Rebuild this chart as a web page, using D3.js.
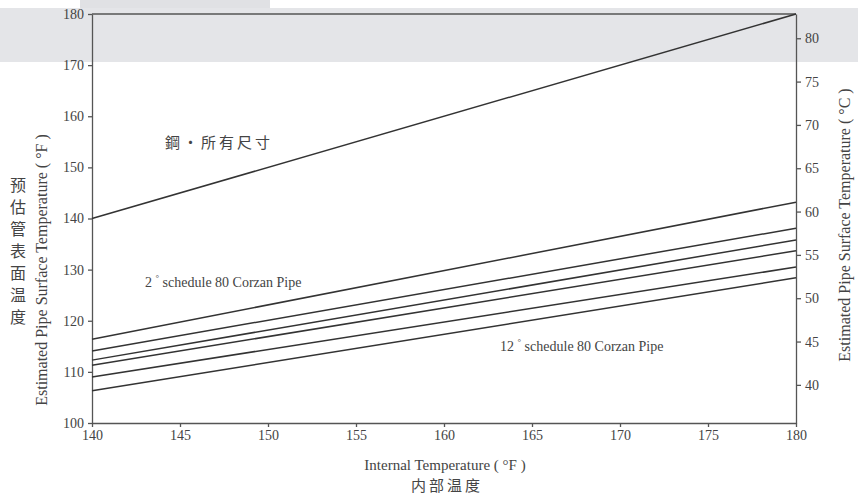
<!DOCTYPE html>
<html>
<head>
<meta charset="utf-8">
<script src="https://cdn.jsdelivr.net/npm/d3@7"></script>
<style>
  body { margin: 0; background: #fff; }
  svg { display: block; }
  .tick text { font-family: "Liberation Serif", "DejaVu Serif", serif; font-size: 14px; fill: #444; }
  .axis path, .axis line { stroke: #555; stroke-width: 1.3; }
</style>
</head>
<body>
<script>
// internal temperature (°F) at the two ends of each line
var internalTemps = [140, 180];

// copper line and the six Corzan pipe lines (°F surface temp at 140 and 180)
var copperLine = [140, 180];
var corzanLines = [
    [116.4, 143.2],
    [114.1, 138.1],
    [112.3, 135.8],
    [111.3, 133.7],
    [109.0, 130.5],
    [106.3, 128.4]
];

var xTicks = [140, 145, 150, 155, 160, 165, 170, 175, 180];
var yTicksF = [100, 110, 120, 130, 140, 150, 160, 170, 180];
var yTicksC = [40, 45, 50, 55, 60, 65, 70, 75, 80];

var width = 858, height = 494;
var margin = { top: 14, right: 62, bottom: 71, left: 92 };

var svg = d3.select('body').append('svg')
    .attr('width', width)
    .attr('height', height);

// grey scan band behind the top of the chart
svg.append('rect').attr('x', 0).attr('y', 8).attr('width', width).attr('height', 54).attr('fill', '#e4e5e8');
svg.append('rect').attr('x', 80).attr('y', 0).attr('width', 190).attr('height', 8).attr('fill', '#e0e1e4');

var x = d3.scaleLinear().domain([140, 180]).range([margin.left, width - margin.right]);
var y = d3.scaleLinear().domain([100, 180]).range([height - margin.bottom, margin.top]);
// the celsius axis on the scan does not line up exactly with the fahrenheit one
var yC = d3.scaleLinear().domain([35.6, 82.8]).range([height - margin.bottom, margin.top]);

var serif = '"Liberation Serif", "DejaVu Serif", serif';
var cjk = '"Noto Sans CJK TC", "Noto Sans CJK SC", sans-serif';

// axes
svg.append('g')
    .attr('class', 'axis')
    .attr('transform', translation(0, height - margin.bottom))
    .call(d3.axisBottom(x).tickValues(xTicks).tickSize(4).tickPadding(3).tickSizeOuter(0).tickFormat(d3.format('d')));

svg.append('g')
    .attr('class', 'axis')
    .attr('transform', translation(margin.left, 0))
    .call(d3.axisLeft(y).tickValues(yTicksF).tickSize(4).tickPadding(4).tickSizeOuter(0).tickFormat(d3.format('d')));

svg.append('g')
    .attr('class', 'axis')
    .attr('transform', translation(width - margin.right, 0))
    .call(d3.axisRight(yC).tickValues(yTicksC).tickSize(5).tickPadding(4).tickSizeOuter(0).tickFormat(d3.format('d')));

svg.selectAll('.axis').attr('font-family', serif).attr('font-size', 14);

// top frame line
svg.append('line')
    .attr('x1', x(140)).attr('x2', x(180))
    .attr('y1', y(180)).attr('y2', y(180))
    .attr('stroke', '#555').attr('stroke-width', 1.3);

// lines
var line = d3.line()
    .x(function (d, i) { return x(internalTemps[i]); })
    .y(function (d) { return y(d); });

svg.append('path')
    .datum(copperLine)
    .attr('d', line)
    .attr('fill', 'none')
    .attr('stroke', '#333')
    .attr('stroke-width', 1.5);

svg.selectAll('.corzan')
    .data(corzanLines)
    .enter().append('path')
    .attr('class', 'corzan')
    .attr('d', line)
    .attr('fill', 'none')
    .attr('stroke', '#333')
    .attr('stroke-width', 1.5);

// annotations
svg.append('text')
    .attr('x', 165).attr('y', 148)
    .attr('font-family', cjk).attr('font-size', 15).attr('fill', '#444')
    .attr('letter-spacing', 3)
    .text('鋼・所有尺寸');

function pipeLabel(px, py, size) {
    var t = svg.append('text')
        .attr('x', px).attr('y', py)
        .attr('font-family', serif).attr('font-size', 14).attr('fill', '#444');
    t.append('tspan').text(size + ' ');
    t.append('tspan').attr('font-size', 9).attr('dy', -6).text('°');
    t.append('tspan').attr('dy', 6).text(' schedule 80 Corzan Pipe');
}
pipeLabel(145, 287, '2');
pipeLabel(500, 351, '12');

// axis titles
svg.append('text')
    .attr('transform', translation(47, 270) + 'rotate(-90)')
    .attr('text-anchor', 'middle')
    .attr('font-family', serif).attr('font-size', 16).attr('fill', '#444')
    .text('Estimated Pipe Surface Temperature ( °F )');

svg.append('text')
    .attr('transform', translation(850, 225) + 'rotate(-90)')
    .attr('text-anchor', 'middle')
    .attr('font-family', serif).attr('font-size', 16).attr('fill', '#444')
    .text('Estimated Pipe Surface Temperature ( °C )');

svg.selectAll('.vchar')
    .data('预估管表面温度'.split(''))
    .enter().append('text')
    .attr('class', 'vchar')
    .attr('x', 18)
    .attr('y', function (d, i) { return 191 + i * 22; })
    .attr('text-anchor', 'middle')
    .attr('font-family', cjk).attr('font-size', 16).attr('fill', '#444')
    .text(function (d) { return d; });

svg.append('text')
    .attr('x', 445).attr('y', 470)
    .attr('text-anchor', 'middle')
    .attr('font-family', serif).attr('font-size', 15).attr('fill', '#444')
    .text('Internal Temperature ( °F )');

svg.append('text')
    .attr('x', 447).attr('y', 491)
    .attr('text-anchor', 'middle')
    .attr('font-family', cjk).attr('font-size', 15).attr('fill', '#444')
    .attr('letter-spacing', 3)
    .text('内部温度');

function translation(tx, ty) {
    return 'translate(' + tx + ',' + ty + ')';
}
</script>
</body>
</html>
